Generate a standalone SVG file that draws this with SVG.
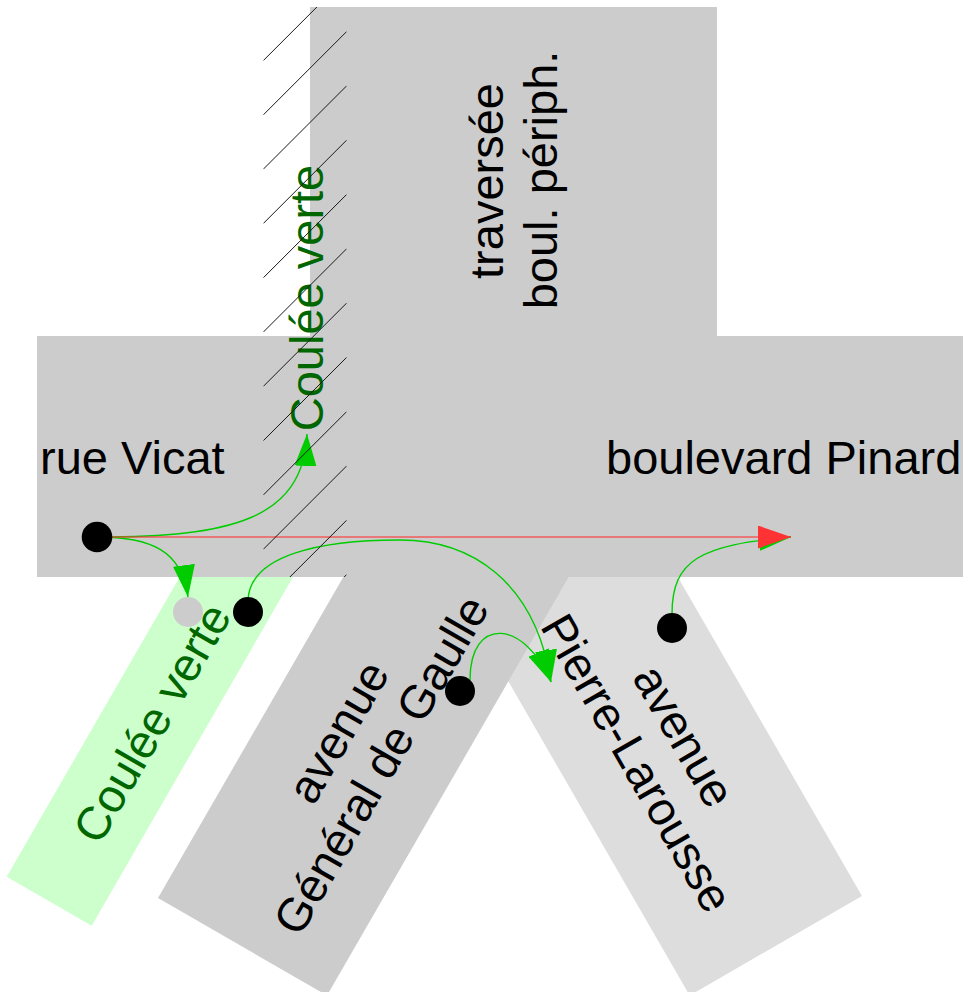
<svg xmlns="http://www.w3.org/2000/svg" width="963" height="992" viewBox="0 0 963 992">
<style>
.lbl{font-family:"Liberation Sans",Arial,sans-serif;font-size:47px;fill:#000}
.grn{fill:#006600}
.road{fill:#cccccc}
.road2{fill:#dddddd}
.cv{fill:#ccffcc}
.con{fill:none;stroke:#00cc00;stroke-width:1.4}
.red{fill:none;stroke:#ff3333;stroke-opacity:0.55;stroke-width:2}
.dot{fill:#000}
.hatch line{stroke:#1a1a1a;stroke-width:1}
</style>
<defs>
<marker id="ag" markerUnits="userSpaceOnUse" markerWidth="34" markerHeight="22" viewBox="0 0 34 22" refX="32" refY="11" orient="auto">
<path d="M0,0 L32,11 L0,22 Z" fill="#00cc00"/>
</marker>
<marker id="ar" markerUnits="userSpaceOnUse" markerWidth="34" markerHeight="24" viewBox="0 0 34 24" refX="33" refY="11.5" orient="auto">
<path d="M0,0 L33,11.5 L0,23 Z" fill="#ff3333"/>
</marker>
<clipPath id="hclip"><rect x="263.3" y="7" width="83.4" height="570"/></clipPath>
</defs>

<g id="avenue-pierre-larousse">
<polygon class="road2" points="862,896 689.7,995.5 439.7,562.5 612,463"/>
<text class="lbl" text-anchor="middle" transform="translate(670,744) rotate(60)">avenue</text>
<text class="lbl" text-anchor="middle" transform="translate(623,771) rotate(60)">Pierre-Larousse</text>
</g>

<g id="avenue-general-de-gaulle">
<polygon class="road" points="158,898 327,995.5 587,545.2 418,447.7"/>
<text class="lbl" text-anchor="middle" transform="translate(352,740) rotate(-60)">avenue</text>
<text class="lbl" text-anchor="middle" transform="translate(395,773) rotate(-60)">Général de Gaulle</text>
</g>

<g id="coulee-verte-sud">
<polygon class="cv" points="6.7,876.7 91.7,925.7 316.7,536 231.7,487"/>
<text class="lbl grn" text-anchor="middle" transform="translate(166,731) rotate(-60)">Coulée verte</text>
</g>

<g id="traversee-boul-periph">
<rect class="road" x="310" y="7" width="407" height="330"/>
<text class="lbl" text-anchor="middle" transform="translate(503,181) rotate(-90)">traversée</text>
<text class="lbl" text-anchor="middle" transform="translate(557,180) rotate(-90)">boul. périph.</text>
</g>

<g id="rue-vicat-boulevard-pinard">
<rect class="road" x="37" y="336" width="926" height="241"/>
<text class="lbl" x="40" y="474">rue Vicat</text>
<text class="lbl" x="606" y="474">boulevard Pinard</text>
</g>

<g id="connectors">
<path class="con" d="M97,537 C230,537 303,520 307,434" marker-end="url(#ag)"/>
<path class="con" d="M97,537 C150,537 182,550 188,597" marker-end="url(#ag)"/>
<path class="con" d="M248,600 C250,555 320,540 400,540 C470,540 535,580 551,682" marker-end="url(#ag)"/>
<path class="con" d="M470,680 C470,615 525,620 551,682" marker-end="url(#ag)"/>
<path class="con" d="M672,614 C672,560 700,545 791,537" marker-end="url(#ag)"/>
<path class="red" d="M97,537 L791,537" marker-end="url(#ar)"/>
</g>

<g id="point-rue-vicat"><circle class="dot" cx="97" cy="537" r="15.3"/></g>
<g id="point-coulee-verte"><circle cx="188" cy="612" r="15" fill="#cccccc"/></g>
<g id="point-gaulle-nord"><circle class="dot" cx="248" cy="612" r="15"/></g>
<g id="point-gaulle"><circle class="dot" cx="460" cy="691" r="15"/></g>
<g id="point-larousse"><circle class="dot" cx="672" cy="628" r="15"/></g>

<g id="coulee-verte-nord">
<text class="lbl grn" text-anchor="middle" transform="translate(323,298) rotate(-90)">Coulée verte</text>
<g class="hatch" clip-path="url(#hclip)">
<line x1="263.3" y1="60.6" x2="346.7" y2="-22.8"/>
<line x1="263.3" y1="114.9" x2="346.7" y2="31.5"/>
<line x1="263.3" y1="169.2" x2="346.7" y2="85.8"/>
<line x1="263.3" y1="223.5" x2="346.7" y2="140.1"/>
<line x1="263.3" y1="277.8" x2="346.7" y2="194.4"/>
<line x1="263.3" y1="332.1" x2="346.7" y2="248.7"/>
<line x1="263.3" y1="386.4" x2="346.7" y2="303"/>
<line x1="263.3" y1="440.7" x2="346.7" y2="357.3"/>
<line x1="263.3" y1="495" x2="346.7" y2="411.6"/>
<line x1="263.3" y1="549.3" x2="346.7" y2="465.9"/>
<line x1="263.3" y1="603.6" x2="346.7" y2="520.2"/>
<line x1="263.3" y1="657.9" x2="346.7" y2="574.5"/>
</g>
</g>
</svg>
